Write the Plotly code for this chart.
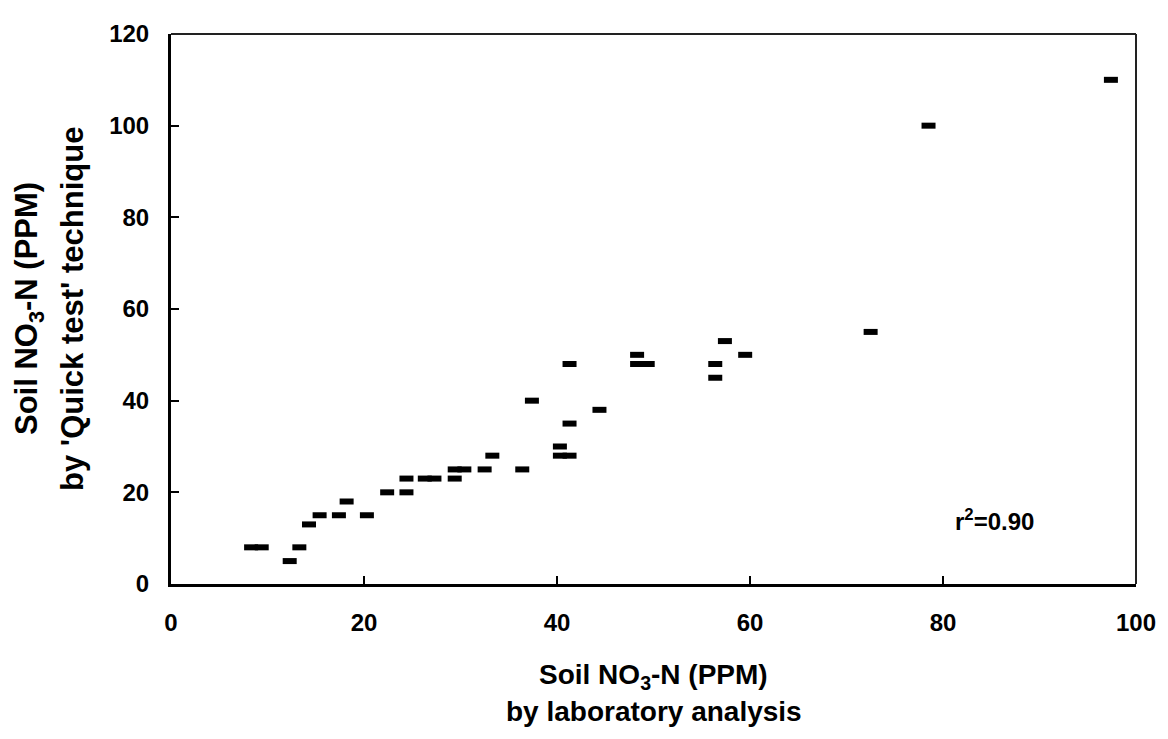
import plotly.graph_objects as go

# Data
lab_ppm = [8.3, 9.4, 12.3, 13.3, 14.3, 15.4, 17.4, 18.2, 20.3, 22.4, 24.4, 24.4,
           26.3, 27.3, 29.4, 29.4, 30.4, 32.5, 33.3, 36.4, 37.4, 40.3, 40.3, 41.3,
           41.3, 41.3, 44.4, 48.3, 48.3, 49.4, 56.4, 56.4, 57.4, 59.5, 72.5, 78.5, 97.4]
quick_ppm = [8, 8, 5, 8, 13, 15, 15, 18, 15, 20, 20, 23,
             23, 23, 23, 25, 25, 25, 28, 25, 40, 30, 28, 28,
             35, 48, 38, 50, 48, 48, 48, 45, 53, 50, 55, 100, 110]

x_ticks = [0, 20, 40, 60, 80, 100]
y_ticks = [0, 20, 40, 60, 80, 100, 120]
r2_text = "r<sup>2</sup>=0.90"

FONT = "Liberation Sans, Arial, sans-serif"

fig = go.Figure()
fig.add_trace(go.Scatter(
    x=lab_ppm, y=quick_ppm, mode="markers",
    marker=dict(symbol="line-ew", size=10, color="black",
                line=dict(color="black", width=6)),
    showlegend=False, hoverinfo="x+y",
))

axis_common = dict(
    showgrid=False, zeroline=False, showline=True, linecolor="black", linewidth=3,
    ticks="inside", ticklen=8, tickwidth=2, tickcolor="black", mirror=False,
    tickfont=dict(family=FONT, size=24, color="black", weight="bold"),
)
fig.update_xaxes(range=[0, 100], tickvals=x_ticks, ticklabelstandoff=15, **axis_common)
fig.update_yaxes(range=[0, 120], tickvals=y_ticks, ticklabelstandoff=14, **axis_common)

# thinner top / right frame lines
fig.add_shape(type="line", xref="paper", yref="paper", x0=0, x1=1, y0=1, y1=1,
              line=dict(color="#222", width=2))
fig.add_shape(type="line", xref="paper", yref="paper", x0=1, x1=1, y0=0, y1=1,
              line=dict(color="#222", width=2))

xfont = dict(family=FONT, size=28, color="black", weight="bold")
yfont = dict(family=FONT, size=31, color="black", weight="bold")
fig.add_annotation(text="Soil NO<sub>3</sub>-N (PPM)", xref="paper", yref="paper",
                   x=0.5, y=0, xanchor="center", yanchor="middle", yshift=-92,
                   showarrow=False, font=xfont)
fig.add_annotation(text="by laboratory analysis", xref="paper", yref="paper",
                   x=0.5, y=0, xanchor="center", yanchor="middle", yshift=-127,
                   showarrow=False, font=xfont)
fig.add_annotation(text="Soil NO<sub>3</sub>-N (PPM)", xref="paper", yref="paper",
                   x=0, y=0.5, xanchor="center", yanchor="middle", xshift=-142,
                   textangle=-90, showarrow=False, font=yfont)
fig.add_annotation(text="by 'Quick test' technique", xref="paper", yref="paper",
                   x=0, y=0.5, xanchor="center", yanchor="middle", xshift=-99,
                   textangle=-90, showarrow=False, font=yfont)
fig.add_annotation(text=r2_text, x=85.3, y=13.9, xref="x", yref="y",
                   xanchor="center", yanchor="middle", showarrow=False,
                   font=dict(family=FONT, size=24, color="black", weight="bold"))

# page body has an 8px margin: shrink the figure so the plot area lands where the reference has it
fig.update_layout(
    width=1160, height=731,
    margin=dict(l=163, r=26, t=16, b=155),
    paper_bgcolor="white", plot_bgcolor="white",
    font=dict(family=FONT, color="black"),
)

fig.write_html("out.html")
